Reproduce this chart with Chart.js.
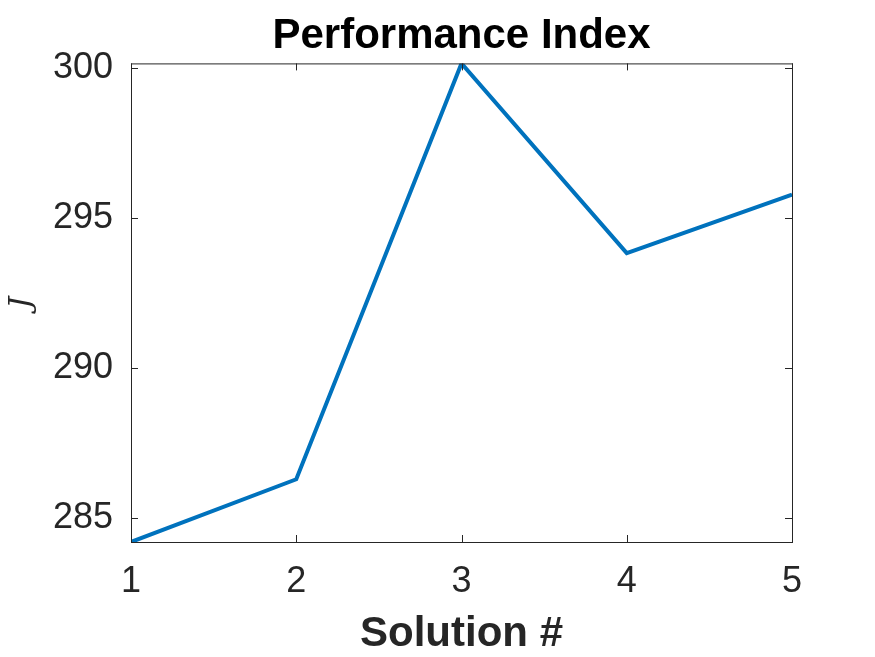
<!DOCTYPE html>
<html>
<head>
<meta charset="utf-8">
<script src="https://cdn.jsdelivr.net/npm/chart.js@4.4.1/dist/chart.umd.min.js"></script>
<style>
  html, body { margin: 0; padding: 0; background: #fff; }
  #wrap { width: 875px; height: 657px; }
</style>
</head>
<body>
<div id="wrap"><canvas id="chart" width="875" height="657"></canvas></div>
<script>
// data
const solutions = [1, 2, 3, 4, 5];
const perfValues = [284.19, 286.28, 300.14, 293.82, 295.77];
const yTicks = [285, 290, 295, 300];
const xTicks = [1, 2, 3, 4, 5];
const yMin = 284.19;
const yMax = 300.14;

const axisColor = '#262626';
const tickFont = { family: 'Liberation Sans', size: 36 };

// MATLAB style box with inward ticks on all four sides
const boxPlugin = {
  id: 'boxTicks',
  afterDraw(chart) {
    const ctx = chart.ctx;
    const a = chart.chartArea;
    const xs = chart.scales.x, ys = chart.scales.y;
    ctx.save();
    ctx.strokeStyle = axisColor;
    ctx.lineWidth = 1;
    ctx.strokeRect(a.left + 0.5, a.top + 0.5, a.right - a.left, a.bottom - a.top);
    const len = 7;
    ctx.beginPath();
    xTicks.forEach(v => {
      const px = Math.round(xs.getPixelForValue(v)) + 0.5;
      ctx.moveTo(px, a.bottom); ctx.lineTo(px, a.bottom - len);
      ctx.moveTo(px, a.top); ctx.lineTo(px, a.top + len);
    });
    yTicks.forEach(v => {
      const py = Math.round(ys.getPixelForValue(v)) + 0.5;
      ctx.moveTo(a.left, py); ctx.lineTo(a.left + len, py);
      ctx.moveTo(a.right, py); ctx.lineTo(a.right - len, py);
    });
    ctx.stroke();
    ctx.restore();
  }
};

new Chart(document.getElementById('chart'), {
  type: 'line',
  data: {
    datasets: [{
      data: solutions.map((s, i) => ({ x: s, y: perfValues[i] })),
      borderColor: '#0072BD',
      borderWidth: 4,
      pointRadius: 0,
      tension: 0,
      fill: false
    }]
  },
  options: {
    responsive: false,
    animation: false,
    devicePixelRatio: 1,
    layout: { padding: { left: 0, right: 83, top: 0, bottom: 0 } },
    plugins: {
      legend: { display: false },
      tooltip: { enabled: false },
      title: {
        display: true,
        fullSize: false,
        text: 'Performance Index',
        color: '#000',
        font: { family: 'Liberation Sans', size: 42, weight: 'bold' },
        padding: { top: 11, bottom: 2 }
      }
    },
    scales: {
      x: {
        type: 'linear',
        min: 1,
        max: 5,
        afterBuildTicks(scale) { scale.ticks = xTicks.map(v => ({ value: v })); },
        afterFit(scale) { scale.height = 115; },
        grid: { display: false },
        border: { display: false },
        ticks: { color: axisColor, font: tickFont, padding: 10, maxRotation: 0 },
        title: {
          display: true,
          text: 'Solution #',
          color: axisColor,
          font: { family: 'Liberation Sans', size: 42, weight: 'bold' },
          padding: { top: 0, bottom: -3 }
        }
      },
      y: {
        min: yMin,
        max: yMax,
        afterBuildTicks(scale) { scale.ticks = yTicks.map(v => ({ value: v })); },
        afterFit(scale) { scale.width = 131; },
        grid: { display: false },
        border: { display: false },
        ticks: { color: axisColor, font: tickFont, padding: 10 },
        title: {
          display: true,
          text: 'J',
          color: axisColor,
          font: { family: 'DejaVu Serif', size: 30, style: 'italic' },
          padding: { top: 4, bottom: 0 }
        }
      }
    }
  },
  plugins: [boxPlugin]
});
</script>
</body>
</html>
